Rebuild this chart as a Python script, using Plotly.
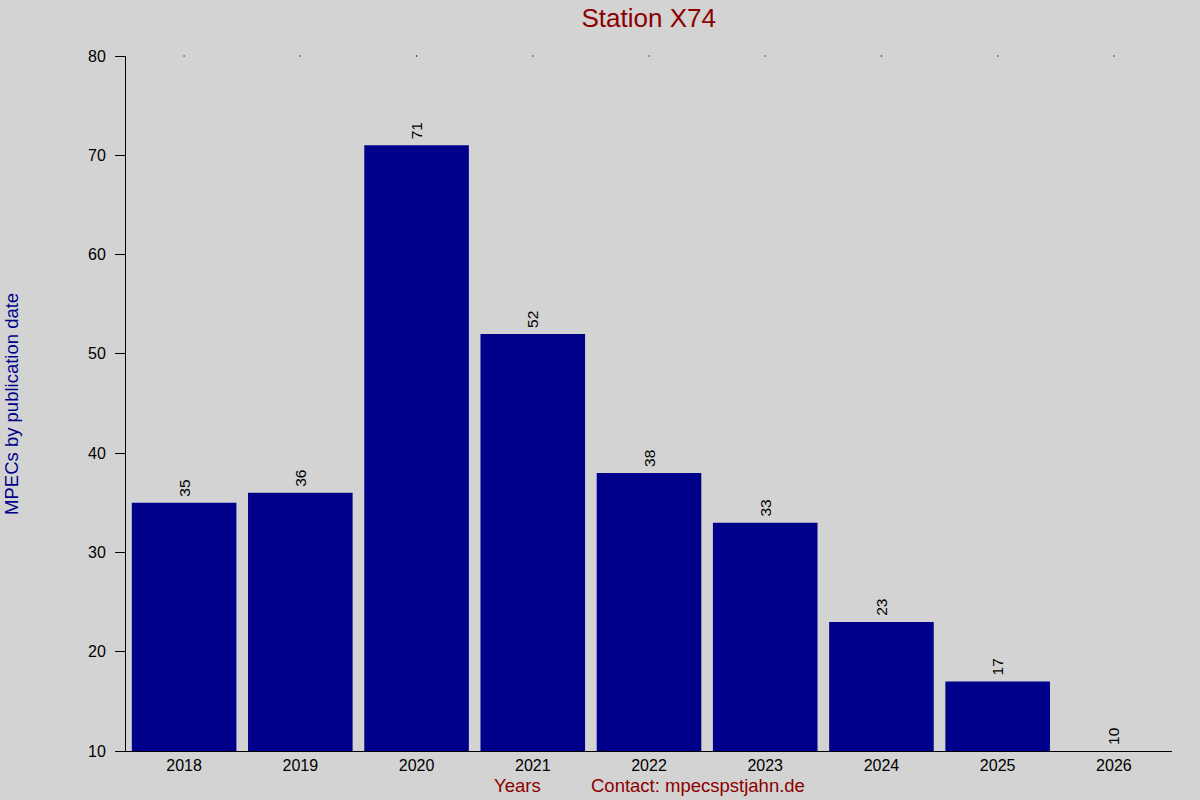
import plotly.graph_objects as go

# MPECs per year for station X74
years = ['2018', '2019', '2020', '2021', '2022', '2023', '2024', '2025', '2026']
mpecs = [35, 36, 71, 52, 38, 33, 23, 17, 10]
y_ticks = [10, 20, 30, 40, 50, 60, 70, 80]
top_marks = [80] * len(years)

navy = '#00008b'
darkred = '#8b0000'
font = 'Liberation Sans, Arial, sans-serif'

fig = go.Figure()
fig.add_trace(go.Bar(
    x=years, y=mpecs,
    marker=dict(color=navy, line=dict(width=0)),
    text=['\u2009' + str(v) for v in mpecs],
    textposition='outside',
    textangle=-90,
    constraintext='none',
    cliponaxis=False,
    textfont=dict(family=font, size=15.5, color='black'),
    hoverinfo='x+y',
))
# small dots along the top edge at each category
fig.add_trace(go.Scatter(
    x=years, y=top_marks, mode='markers',
    marker=dict(color='black', size=1.2, symbol='square'),
    cliponaxis=False, hoverinfo='skip',
))

fig.update_layout(
    width=1200, height=800,
    paper_bgcolor='#d3d3d3', plot_bgcolor='#d3d3d3',
    margin=dict(l=126, r=28, t=56, b=49),
    showlegend=False,
    bargap=0.1,
    font=dict(family=font, size=16, color='black'),
    title=dict(text='Station X74', x=0.5406, xanchor='center', y=0.978, yanchor='middle',
               font=dict(family=font, size=26, color=darkred)),
)
fig.update_xaxes(
    type='category', showgrid=False, zeroline=False,
    showline=True, linecolor='black', linewidth=1,
    ticks='', tickfont=dict(size=16), ticklabelstandoff=0,
)
fig.update_yaxes(
    range=[10, 80], tickvals=y_ticks, showgrid=False, zeroline=False,
    showline=True, linecolor='black', linewidth=1,
    ticks='outside', ticklen=10, tickcolor='black',
    tickfont=dict(size=16), ticklabelstandoff=6,
)
fig.add_annotation(text='MPECs by publication date', xref='paper', yref='paper',
                   x=-0.1095, y=0.5, textangle=-90, showarrow=False,
                   xanchor='center', yanchor='middle',
                   font=dict(family=font, size=18.5, color=navy))
fig.add_annotation(text='Years', xref='paper', yref='paper',
                   x=(517 - 126) / 1046, y=-35 / 695, showarrow=False,
                   xanchor='center', yanchor='middle',
                   font=dict(family=font, size=18.5, color=darkred))
fig.add_annotation(text='Contact: mpecspstjahn.de', xref='paper', yref='paper',
                   x=(698 - 126) / 1046, y=-35 / 695, showarrow=False,
                   xanchor='center', yanchor='middle',
                   font=dict(family=font, size=18.5, color=darkred))

fig.write_html('out.html', config={'displayModeBar': False},
               post_script="document.body.style.margin='0';")
